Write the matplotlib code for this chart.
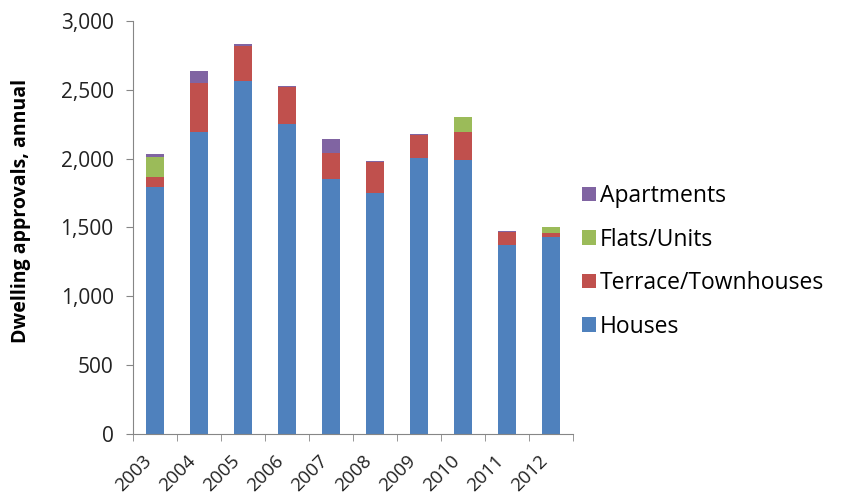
import numpy as np
import matplotlib.pyplot as plt
import matplotlib.transforms as mtransforms

plt.rcParams['font.family'] = ['Open Sans', 'DejaVu Sans']

years = ['2003', '2004', '2005', '2006', '2007', '2008', '2009', '2010', '2011', '2012']
houses = [1795, 2195, 2565, 2255, 1850, 1750, 2005, 1990, 1375, 1430]
terrace = [70, 355, 255, 265, 190, 225, 170, 200, 95, 30]
flats = [145, 0, 0, 0, 0, 0, 0, 110, 0, 40]
apartments = [25, 85, 10, 8, 100, 5, 5, 0, 5, 0]

series = [('Houses', houses, '#4F81BD'),
          ('Terrace/Townhouses', terrace, '#C0504D'),
          ('Flats/Units', flats, '#9BBB59'),
          ('Apartments', apartments, '#8064A2')]

fig = plt.figure(figsize=(8.42, 4.99), dpi=100)
ax = fig.add_axes([0.158, 0.1303, 0.5225, 0.8277])

x = np.arange(len(years))
bottom = np.zeros(len(years))
handles = []
for name, vals, col in series:
    b = ax.bar(x, vals, width=0.41, bottom=bottom, color=col, label=name)
    handles.append(b)
    bottom += np.array(vals)

ax.set_xlim(-0.5, len(years) - 0.5)
ax.set_ylim(0, 3000)
ax.set_yticks(np.arange(0, 3001, 500))
ax.set_yticklabels([f'{v:,}' for v in range(0, 3001, 500)], fontsize=15, color='#222222')

ax.set_xticks(x)
ax.set_xticklabels(years, rotation=45, ha='right', fontsize=13.5, color='#222222')
shift = mtransforms.ScaledTranslation(7 / 100, 0, fig.dpi_scale_trans)
for lab in ax.get_xticklabels():
    lab.set_transform(lab.get_transform() + shift)
ax.set_xticks(np.arange(-0.5, len(years), 1), minor=True)
ax.tick_params(axis='x', which='major', length=0, pad=13)
ax.tick_params(axis='x', which='minor', length=5, color='#868686', direction='out')
ax.tick_params(axis='y', length=5, color='#868686', direction='out', pad=9)

for s in ['top', 'right']:
    ax.spines[s].set_visible(False)
for s in ['left', 'bottom']:
    ax.spines[s].set_color('#868686')

ax.set_ylabel('Dwelling approvals, annual', fontsize=14, fontweight='bold')
ax.yaxis.set_label_coords(-0.232, 0.54)

leg = fig.legend(handles[::-1], [s[0] for s in series][::-1], loc='center left',
                 bbox_to_anchor=(0.691, 0.476), frameon=False, fontsize=16.5,
                 handlelength=0.6, handleheight=0.6, handletextpad=0.2, labelspacing=0.85,
                 borderpad=0, borderaxespad=0)

fig.savefig('out.png', dpi=100)
